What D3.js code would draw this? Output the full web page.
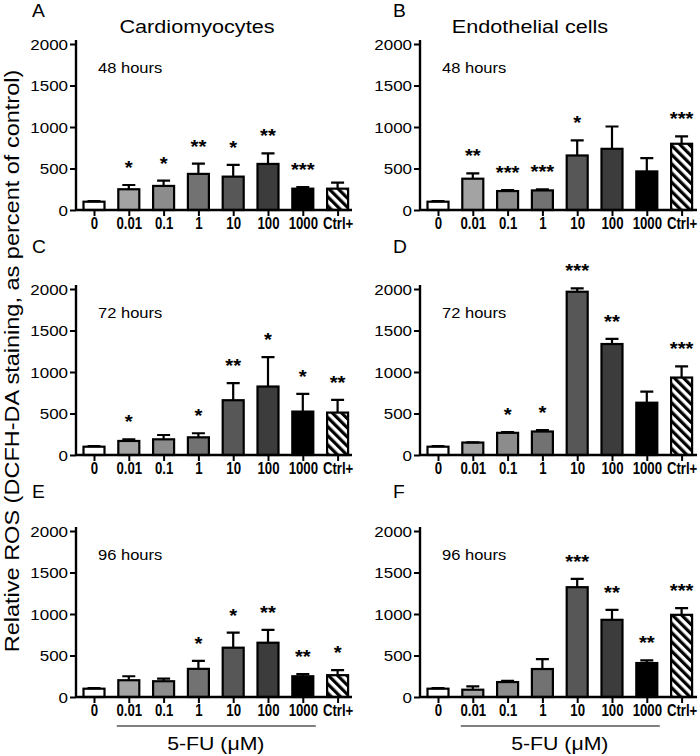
<!DOCTYPE html>
<html>
<head>
<meta charset="utf-8">
<script src="https://cdn.jsdelivr.net/npm/d3@7"></script>
<style>
  html, body { margin: 0; padding: 0; background: #fff; }
  svg { display: block; }
  text { font-family: "Liberation Sans", Arial, sans-serif; fill: #000; }
</style>
</head>
<body>
<svg id="chart" width="700" height="756"></svg>
<script>
// ---------- DATA ----------
const categories = ["0", "0.01", "0.1", "1", "10", "100", "1000", "Ctrl+"];
const yTicks = [0, 500, 1000, 1500, 2000];

const cardio48Mean = [100, 250, 290, 435, 402, 555, 257, 257];
const cardio48Err  = [6, 51, 64, 124, 141, 128, 20, 73];
const cardio48Sig  = ["", "*", "*", "**", "*", "**", "***", ""];

const endo48Mean = [100, 377, 228, 236, 657, 737, 465, 798];
const endo48Err  = [6, 64, 12, 12, 181, 269, 160, 88];
const endo48Sig  = ["", "**", "***", "***", "*", "", "", "***"];

const cardio72Mean = [100, 169, 189, 213, 660, 825, 523, 511];
const cardio72Err  = [8, 20, 52, 49, 205, 354, 213, 153];
const cardio72Sig  = ["", "*", "", "*", "**", "*", "*", "**"];

const endo72Mean = [100, 150, 267, 283, 1967, 1337, 630, 933];
const endo72Err  = [6, 3, 8, 16, 41, 61, 134, 134];
const endo72Sig  = ["", "", "*", "*", "***", "**", "", "***"];

const cardio96Mean = [100, 202, 190, 339, 594, 654, 250, 263];
const cardio96Err  = [8, 48, 32, 97, 182, 154, 25, 60];
const cardio96Sig  = ["", "", "", "*", "*", "**", "**", "*"];

const endo96Mean = [100, 88, 180, 337, 1323, 930, 409, 990];
const endo96Err  = [6, 40, 16, 120, 100, 120, 32, 80];
const endo96Sig  = ["", "", "", "", "***", "**", "**", "***"];

const panelLetters = ["A", "B", "C", "D", "E", "F"];
const timeLabels = ["48 hours", "48 hours", "72 hours", "72 hours", "96 hours", "96 hours"];
const columnTitles = ["Cardiomyocytes", "Endothelial cells"];
const yAxisTitle = "Relative ROS (DCFH-DA staining, as percent of control)";
const xGroupTitle = "5-FU (\u03bcM)";

const barFills = ["#ffffff", "#a3a3a3", "#8c8c8c", "#727272", "#575757", "#3c3c3c", "#000000", "url(#hatch)"];

// ---------- LAYOUT ----------
const SX = 1.17; // horizontal text stretch
const colAxisX = [76, 420];
const colAxisEnd = [352, 697];
const rowBase = [210, 455, 697];
const plotH = 166;

const panels = [
  {mean: cardio48Mean, err: cardio48Err, sig: cardio48Sig},
  {mean: endo48Mean, err: endo48Err, sig: endo48Sig},
  {mean: cardio72Mean, err: cardio72Err, sig: cardio72Sig},
  {mean: endo72Mean, err: endo72Err, sig: endo72Sig},
  {mean: cardio96Mean, err: cardio96Err, sig: cardio96Sig},
  {mean: endo96Mean, err: endo96Err, sig: endo96Sig}
];

const svg = d3.select("#chart");
const defs = svg.append("defs");
const pat = defs.append("pattern")
  .attr("id", "hatch").attr("patternUnits", "userSpaceOnUse")
  .attr("width", 6.5).attr("height", 6.5)
  .attr("patternTransform", "rotate(-45)");
pat.append("rect").attr("width", 6.5).attr("height", 6.5).attr("fill", "#fff");
pat.append("rect").attr("width", 3.2).attr("height", 6.5).attr("fill", "#000");

function stext(g, x, y, str, size, opts = {}) {
  const sx = opts.sx || SX;
  const t = g.append("text")
    .attr("transform", `translate(${x},${y}) scale(${sx},1)`)
    .attr("font-size", size)
    .attr("text-anchor", opts.anchor || "start")
    .text(str);
  if (opts.bold) t.attr("font-weight", "bold");
  return t;
}

panels.forEach((p, k) => {
  const col = k % 2, row = Math.floor(k / 2);
  const ax = colAxisX[col], y0 = rowBase[row];
  const g = svg.append("g");

  const y = d3.scaleLinear().domain([0, 2000]).range([y0, y0 - plotH]);
  const x = d3.scalePoint().domain(categories)
    .range([ax + 18, ax + 18 + 7 * 34.8]);
  const bw = 21;

  // bars
  g.selectAll("rect.bar").data(categories).join("rect")
    .attr("class", "bar")
    .attr("x", d => x(d) - bw / 2)
    .attr("width", bw)
    .attr("y", (d, i) => y(p.mean[i]))
    .attr("height", (d, i) => y0 - y(p.mean[i]))
    .attr("fill", (d, i) => barFills[i])
    .attr("stroke", "#000").attr("stroke-width", 2.2);

  // error bars (upper only)
  g.selectAll("path.err").data(categories).join("path")
    .attr("class", "err")
    .attr("d", (d, i) => {
      const cx = x(d), top = y(p.mean[i] + p.err[i]), b = y(p.mean[i]);
      return `M${cx},${b}V${top}M${cx - 6.5},${top}H${cx + 6.5}`;
    })
    .attr("fill", "none").attr("stroke", "#000").attr("stroke-width", 2.2);

  // significance stars
  categories.forEach((d, i) => {
    if (!p.sig[i]) return;
    stext(g, x(d), y(p.mean[i] + p.err[i]) - 11, p.sig[i], 18.5, {anchor: "middle", bold: true, sx: 1.1});
  });

  // y axis
  const yAxis = g.append("g").attr("transform", `translate(${ax},0)`)
    .call(d3.axisLeft(y).tickValues(yTicks).tickFormat(d3.format("d")).tickSize(6).tickPadding(3));
  yAxis.select(".domain").attr("d", `M0,${y0}V${y0 - plotH - 4}`).attr("stroke-width", 2.4);
  yAxis.selectAll(".tick line").attr("stroke-width", 2);
  yAxis.selectAll(".tick text")
    .attr("font-size", 14.5)
    .attr("font-family", "Liberation Sans, Arial, sans-serif")
    .attr("x", -8 / SX)
    .attr("dy", "0.36em")
    .attr("transform", `scale(${SX},1)`);

  // x axis
  const xAxis = g.append("g").attr("transform", `translate(0,${y0})`)
    .call(d3.axisBottom(x).tickSize(6).tickPadding(4));
  xAxis.select(".domain").attr("d", `M${ax},0H${colAxisEnd[col]}`).attr("stroke-width", 2.4);
  xAxis.selectAll(".tick line").attr("stroke-width", 2);
  xAxis.selectAll(".tick text")
    .attr("font-size", 16.5)
    .attr("font-weight", "bold")
    .attr("font-family", "Liberation Sans, Arial, sans-serif")
    .attr("y", 19.5).attr("dy", 0)
    .attr("transform", "scale(0.8,1)")
    .attr("x", 0);

  // panel letter
  stext(g, col === 0 ? 32 : 393, row === 0 ? 17 : (row === 1 ? 253 : 498), panelLetters[k], 17.5, {sx: 1.1});
  // time label
  stext(g, ax + 22, y0 - 137, timeLabels[k], 14.5, {sx: 1.14});

  // 5-FU group line on bottom row
  if (row === 2) {
    g.append("line")
      .attr("x1", x(categories[1]) - 12).attr("x2", x(categories[6]) + 13)
      .attr("y1", 726).attr("y2", 726)
      .attr("stroke", "#000").attr("stroke-width", 1);
    stext(g, (x(categories[1]) + x(categories[6])) / 2, 750, xGroupTitle, 18.5, {anchor: "middle", sx: 1.15});
  }
});

// column titles
stext(svg, 197, 33, columnTitles[0], 18.5, {anchor: "middle", sx: 1.17});
stext(svg, 530, 33, columnTitles[1], 18.5, {anchor: "middle", sx: 1.17});

// y axis title
svg.append("text")
  .attr("transform", `translate(19,361) rotate(-90) scale(1.12,1)`)
  .attr("text-anchor", "middle")
  .attr("font-size", 21)
  .text(yAxisTitle);
</script>
</body>
</html>
